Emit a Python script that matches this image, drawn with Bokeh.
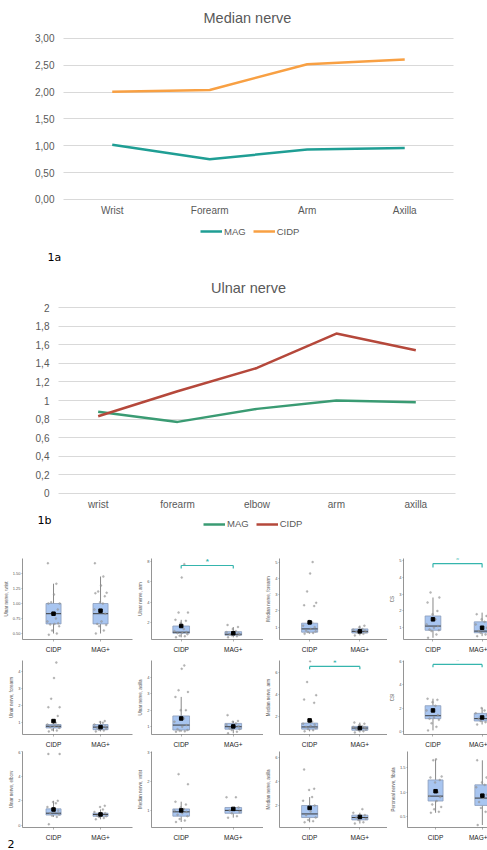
from bokeh.plotting import figure
from bokeh.models import (Range1d, FixedTicker, Label, Legend, LegendItem, ColumnDataSource,
                          Title, Grid)
from bokeh.layouts import column, row
from bokeh.embed import file_html
from bokeh.resources import INLINE

# ---------------- data: figure 1a (median nerve) ----------------
median_sites = ["Wrist", "Forearm", "Arm", "Axilla"]
median_mag = [1.02, 0.75, 0.93, 0.96]
median_cidp = [2.01, 2.04, 2.52, 2.61]
median_yticks = [0, 0.5, 1.0, 1.5, 2.0, 2.5, 3.0]
median_ylabels = ["0,00", "0,50", "1,00", "1,50", "2,00", "2,50", "3,00"]

# ---------------- data: figure 1b (ulnar nerve) ----------------
ulnar_sites = ["wrist", "forearm", "elbow", "arm", "axilla"]
ulnar_mag = [0.88, 0.77, 0.91, 1.00, 0.98]
ulnar_cidp = [0.83, 1.10, 1.35, 1.72, 1.54]
ulnar_yticks = [0, 0.2, 0.4, 0.6, 0.8, 1.0, 1.2, 1.4, 1.6, 1.8, 2.0]
ulnar_ylabels = ["0", "0,2", "0,4", "0,6", "0,8", "1", "1,2", "1,4", "1,6", "1,8", "2"]

# ---------------- data: figure 2 (box plots) ----------------
groups = ["CIDP", "MAG+"]
panel_titles = [
    "Ulnar nerve, wrist", "Ulnar nerve, arm", "Median nerve, forearm", "CS",
    "Ulnar nerve, forearm", "Ulnar nerve, axilla", "Median nerve, arm", "CSI",
    "Ulnar nerve, elbow", "Median nerve, wrist", "Median nerve, axilla", "Peroneal nerve, fibula",
]
panel_ticks = [
    [0.5, 0.75, 1.0, 1.25, 1.5], [2, 4, 6, 8], [1, 2, 3, 4, 5], [1, 2, 3, 4, 5],
    [1, 2, 3, 4], [1, 2, 3, 4], [2, 4, 6], [0, 2, 4, 6],
    [0, 2, 4, 6], [1, 2, 3], [2, 4, 6], [0.5, 1.0, 1.5],
]
panel_tick_labels = [
    ["0.50", "0.75", "1.00", "1.25", "1.50"], ["2", "4", "6", "8"], ["1", "2", "3", "4", "5"], ["1", "2", "3", "4", "5"],
    ["1", "2", "3", "4"], ["1", "2", "3", "4"], ["2", "4", "6"], ["0", "2", "4", "6"],
    ["0", "2", "4", "6"], ["1", "2", "3"], ["2", "4", "6"], ["0.5", "1.0", "1.5"],
]
panel_yrange = [
    (0.40, 1.75), (0.39, 8.25), (0.25, 5.22), (0.30, 5.12),
    (0.32, 4.62), (0.53, 5.00), (0.31, 7.07), (-0.25, 6.05),
    (-0.16, 6.00), (0.41, 3.03), (0.17, 6.50), (0.28, 1.83),
]
cidp_points = [
    [0.48, 0.50, 0.55, 0.62, 0.65, 0.66, 0.67, 0.70, 0.75, 0.83, 0.90, 1.00, 1.00, 1.02, 1.15, 1.33, 1.67],
    [0.6, 0.7, 0.75, 0.9, 1.0, 1.05, 1.1, 1.2, 1.4, 2.0, 2.2, 2.3, 3.0, 3.0, 6.4, 7.7],
    [0.6, 0.65, 0.7, 0.75, 0.8, 0.9, 1.0, 1.1, 1.3, 1.4, 2.3, 2.35, 2.5, 3.2, 4.3, 5.0],
    [0.4, 0.6, 0.8, 0.85, 0.9, 1.0, 1.1, 1.2, 1.5, 1.8, 2.0, 2.5, 2.8, 3.1],
    [0.5, 0.55, 0.6, 0.7, 0.75, 0.8, 0.85, 0.9, 1.0, 1.1, 1.4, 1.9, 1.9, 2.4, 3.6, 4.5],
    [0.7, 0.72, 0.75, 0.8, 0.85, 1.0, 1.1, 1.3, 1.5, 2.0, 2.0, 2.8, 3.1, 3.2, 4.5, 4.7],
    [0.6, 0.7, 0.8, 0.9, 1.0, 1.1, 1.2, 1.3, 1.5, 1.7, 3.2, 3.5, 3.9, 5.1, 7.0],
    [0.1, 0.4, 0.7, 1.0, 1.1, 1.2, 1.4, 1.8, 2.2, 2.5, 2.7, 2.8],
    [0.1, 0.7, 0.8, 0.9, 1.0, 1.1, 1.2, 1.5, 1.8, 1.9, 2.0, 5.8, 5.8],
    [0.6, 0.65, 0.7, 0.8, 0.85, 0.9, 0.95, 1.0, 1.05, 1.1, 1.2, 1.3, 1.9, 2.25],
    [0.6, 0.7, 0.8, 1.0, 1.2, 1.5, 2.0, 2.4, 2.7, 3.3, 3.4, 5.0],
    [0.58, 0.6, 0.65, 0.7, 0.75, 0.82, 0.9, 0.92, 1.0, 1.2, 1.25, 1.3, 1.32, 1.65, 1.67],
]
mag_points = [
    [0.50, 0.55, 0.62, 0.64, 0.66, 0.70, 0.83, 0.90, 1.00, 1.02, 1.12, 1.17, 1.18, 1.20, 1.30, 1.45, 1.67],
    [0.6, 0.7, 0.8, 0.85, 0.9, 0.95, 1.0, 1.1, 1.2, 1.4, 1.6, 1.8],
    [0.5, 0.6, 0.65, 0.7, 0.72, 0.75, 0.8, 0.85, 0.9, 1.0, 1.1],
    [0.5, 0.6, 0.7, 0.75, 0.8, 0.9, 1.0, 1.2, 1.35, 1.5, 1.7, 1.8, 1.9],
    [0.5, 0.55, 0.6, 0.65, 0.7, 0.75, 0.8, 0.9, 1.0, 1.05, 1.1],
    [0.6, 0.7, 0.8, 0.85, 0.9, 1.0, 1.05, 1.1, 1.2, 1.3, 1.35, 1.7],
    [0.5, 0.6, 0.7, 0.75, 0.8, 0.9, 0.95, 1.0, 1.05, 1.2, 1.3, 1.4],
    [0.6, 0.8, 0.9, 1.0, 1.1, 1.2, 1.4, 1.55, 1.8, 2.0],
    [0.5, 0.6, 0.7, 0.75, 0.8, 0.9, 1.0, 1.1, 1.3, 1.5, 1.6],
    [0.75, 0.8, 0.9, 0.95, 1.0, 1.05, 1.1, 1.45, 1.45],
    [0.5, 0.6, 0.8, 0.9, 1.0, 1.1, 1.2, 1.4, 1.7],
    [0.33, 0.6, 0.68, 0.73, 0.8, 0.88, 0.95, 1.1, 1.15, 1.2, 1.3, 1.65],
]
# box summaries: (q1, median, q3, whisker low, whisker high, mean)
cidp_stats = [
    (0.66, 0.83, 1.00, 0.50, 1.33, 0.83), (1.0, 1.1, 1.7, 0.6, 2.3, 1.7),
    (0.7, 0.9, 1.25, 0.6, 1.4, 1.3), (0.85, 1.1, 1.7, 0.4, 2.8, 1.5),
    (0.7, 0.8, 0.9, 0.5, 1.1, 1.1), (0.8, 1.1, 1.65, 0.7, 2.8, 1.5),
    (0.8, 1.0, 1.35, 0.6, 1.7, 1.6), (1.1, 1.35, 2.2, 0.1, 2.8, 1.8),
    (0.85, 1.0, 1.35, 0.7, 2.0, 1.3), (0.8, 0.95, 1.05, 0.6, 1.3, 1.0),
    (1.0, 1.3, 2.0, 0.6, 2.7, 1.8), (0.82, 0.92, 1.25, 0.58, 1.67, 1.02),
]
mag_stats = [
    (0.66, 0.83, 1.00, 0.50, 1.45, 0.88), (0.8, 0.9, 1.15, 0.6, 1.6, 1.0),
    (0.65, 0.75, 0.9, 0.5, 1.1, 0.75), (0.7, 0.8, 1.35, 0.5, 1.9, 1.0),
    (0.6, 0.75, 0.9, 0.5, 1.1, 0.75), (0.85, 1.0, 1.2, 0.6, 1.35, 1.02),
    (0.7, 0.9, 1.05, 0.5, 1.4, 0.9), (0.9, 1.1, 1.55, 0.6, 2.0, 1.2),
    (0.75, 0.9, 1.0, 0.5, 1.3, 0.9), (0.9, 1.0, 1.1, 0.75, 1.1, 1.05),
    (0.8, 1.0, 1.2, 0.5, 1.4, 1.05), (0.73, 0.88, 1.15, 0.33, 1.65, 0.93),
]
# significance brackets: (bar level, end level, star level) or None
panel_sig = [
    None, (7.57, 7.28, 7.96), None, (4.82, 4.59, 5.06),
    None, None, (6.53, 6.27, 6.90), (5.72, 5.47, 6.05),
    None, None, None, None,
]

# ---------------- styling ----------------
FONT = "Liberation Sans"
GREY = "#595959"
JITTER = [-0.10, 0.07, -0.03, 0.12, -0.07, 0.02, 0.10, -0.13, 0.05, -0.01,
          0.09, -0.11, 0.13, -0.05, 0.01, 0.06, -0.12, 0.11]
HAS_CROSS = "cross_bounds" in Grid.properties()


def line_chart(sites, mag, cidp, yticks, ylabels, c_mag, c_cidp, height, xr, yr,
               title, title_xy, legend_loc, tag, tag_xy):
    # the frame fills the whole canvas; both axes are pinned at the data origin
    p = figure(width=487, height=height, x_range=Range1d(*xr), y_range=Range1d(*yr),
               output_backend="svg", toolbar_location=None,
               min_border_left=0, min_border_right=0, min_border_top=0, min_border_bottom=0)
    n = len(sites)
    xs = [k + 0.5 for k in range(n)]
    p.outline_line_color = None
    p.xgrid.grid_line_color = None
    p.ygrid.ticker = FixedTicker(ticks=yticks)
    if HAS_CROSS:
        p.ygrid.grid_line_color = "#d9d9d9"
        p.ygrid.cross_bounds = (0, n)
    else:
        p.ygrid.grid_line_color = None
        p.segment(x0=0, x1=n, y0=yticks, y1=yticks, line_color="#d9d9d9", line_width=1)
    p.xaxis.ticker = FixedTicker(ticks=xs)
    p.xaxis.major_label_overrides = {x: s for x, s in zip(xs, sites)}
    p.yaxis.ticker = FixedTicker(ticks=yticks)
    p.yaxis.major_label_overrides = {t: s for t, s in zip(yticks, ylabels)}
    p.xaxis.fixed_location = 0
    p.yaxis.fixed_location = 0
    for ax in (p.xaxis, p.yaxis):
        ax.axis_line_color = None
        ax.major_tick_line_color = None
        ax.major_tick_out = 0
        ax.major_tick_in = 0
        ax.minor_tick_line_color = None
        ax.major_label_text_font = FONT
        ax.major_label_text_font_size = "10px"
        ax.major_label_text_color = GREY
    p.yaxis.major_label_standoff = 9
    p.xaxis.major_label_standoff = 6
    r_mag = p.line(xs, mag, line_color=c_mag, line_width=2.5)
    r_cidp = p.line(xs, cidp, line_color=c_cidp, line_width=2.5)
    leg = Legend(items=[LegendItem(label="MAG", renderers=[r_mag]),
                        LegendItem(label="CIDP", renderers=[r_cidp])],
                 location=legend_loc, orientation="horizontal", padding=0, margin=0,
                 spacing=7, label_standoff=2, glyph_width=22, glyph_height=12,
                 label_height=12, label_text_font=FONT, label_text_font_size="9.5px",
                 label_text_color=GREY, border_line_color=None, background_fill_alpha=0)
    p.add_layout(leg)
    p.add_layout(Label(x=title_xy[0], y=title_xy[1], text=title, text_align="center",
                       text_baseline="middle", text_font=FONT, text_font_size="14.5px",
                       text_color=GREY))
    p.add_layout(Label(x=tag_xy[0], y=tag_xy[1], text=tag, text_align="left",
                       text_baseline="middle", text_font="DejaVu Sans", text_font_size="11px",
                       text_color="black"))
    return p


# 1a: canvas rows 0..270; frame origin at (63, 199) px, 97.5 px per site, 53.67 px per unit
fig1a = line_chart(median_sites, median_mag, median_cidp, median_yticks, median_ylabels,
                   "#1f9e94", "#f8a043", 270, (-0.646, 4.349), (-1.323, 3.708),
                   "Median nerve", (1.887, 3.373), (200, 33), "1a", (-0.164, -1.081))
# 1b: canvas rows 270..542; frame origin at (58, 493) px, 79.4 px per site, 93 px per unit
fig1b = line_chart(ulnar_sites, ulnar_mag, ulnar_cidp, ulnar_yticks, ulnar_ylabels,
                   "#3a9b73", "#b5483b", 272, (-0.730, 5.403), (-0.527, 2.398),
                   "Ulnar nerve", (2.393, 2.215), (203, 12.5), "1b", (-0.264, -0.290))

BOX_FILL = "#a8c5f0"
BOX_LINE = "#8a9cba"
col_widths = [135, 128, 124, 100]
col_left = [22, 14, 14, 11]
col_right = [3, 0, 0, 0]
col_xr = [(0.34, 2.68), (0.43, 2.58), (0.40, 2.55), (0.40, 2.11)]
row_heights = [113, 95, 100]
row_top = [16, 5, 1]
row_bottom = [16, 14, 23]


def box_panel(i):
    r, c = divmod(i, 4)
    p = figure(width=col_widths[c], height=row_heights[r],
               x_range=Range1d(*col_xr[c]), y_range=Range1d(*panel_yrange[i]),
               output_backend="svg", toolbar_location=None,
               min_border_left=col_left[c], min_border_right=col_right[c],
               min_border_top=row_top[r], min_border_bottom=row_bottom[r])
    p.outline_line_color = None
    p.grid.grid_line_color = None
    p.xaxis.ticker = FixedTicker(ticks=[1, 2])
    p.xaxis.major_label_overrides = {1: groups[0], 2: groups[1]}
    p.yaxis.ticker = FixedTicker(ticks=panel_ticks[i])
    p.yaxis.major_label_overrides = {t: s for t, s in zip(panel_ticks[i], panel_tick_labels[i])}
    for ax in (p.xaxis, p.yaxis):
        ax.axis_line_color = "#7a7a7a"
        ax.axis_line_width = 0.8
        ax.major_tick_line_color = "#7a7a7a"
        ax.major_tick_line_width = 0.6
        ax.major_tick_in = 0
        ax.minor_tick_line_color = None
        ax.major_label_text_font = FONT
    p.xaxis.major_tick_out = 2
    p.xaxis.major_label_text_font_size = "6.5px"
    p.xaxis.major_label_text_color = "#222222"
    p.xaxis.major_label_standoff = 4
    p.yaxis.major_tick_out = 1
    p.yaxis.major_label_text_font_size = "4px"
    p.yaxis.major_label_text_color = "#555555"
    p.yaxis.major_label_standoff = 1
    p.yaxis.axis_label = panel_titles[i]
    p.yaxis.axis_label_text_font = FONT
    p.yaxis.axis_label_text_font_size = "4.5px"
    p.yaxis.axis_label_text_font_style = "normal"
    p.yaxis.axis_label_text_color = "#555555"
    p.yaxis.axis_label_standoff = 1

    stats = [cidp_stats[i], mag_stats[i]]
    xs = [1, 2]
    hw = 0.16
    src = ColumnDataSource(dict(
        x=xs, xl=[x - hw for x in xs], xr=[x + hw for x in xs],
        q1=[s[0] for s in stats], med=[s[1] for s in stats], q3=[s[2] for s in stats],
        lo=[s[3] for s in stats], hi=[s[4] for s in stats], mean=[s[5] for s in stats]))
    p.segment(x0="x", y0="q3", x1="x", y1="hi", source=src, line_color="#555555", line_width=0.7)
    p.segment(x0="x", y0="lo", x1="x", y1="q1", source=src, line_color="#555555", line_width=0.7)
    p.vbar(x="x", width=2 * hw, bottom="q1", top="q3", source=src,
           fill_color=BOX_FILL, line_color=BOX_LINE, line_width=0.8)
    p.segment(x0="xl", y0="med", x1="xr", y1="med", source=src, line_color="#3a3a3a", line_width=1)
    for gx, pts in zip(xs, [cidp_points[i], mag_points[i]]):
        px = [gx + JITTER[k % len(JITTER)] for k in range(len(pts))]
        p.scatter(px, pts, size=2, fill_color="#a0a0a0", line_color="#7a7a7a",
                  line_width=0.3, alpha=0.75)
    p.scatter(x="x", y="mean", source=src, marker="square", size=3.5,
              fill_color="black", line_color="black")
    sig = panel_sig[i]
    if sig is not None:
        bar, end, star = sig
        p.segment(x0=[1, 1, 2], y0=[bar, bar, bar], x1=[2, 1, 2], y1=[bar, end, end],
                  line_color="#35b5ad", line_width=1.2)
        p.add_layout(Label(x=1.5, y=star, text="*", text_align="center", text_baseline="middle",
                           text_font=FONT, text_font_size="8px", text_font_style="bold",
                           text_color="#35b5ad"))
    if i == 8:
        p.add_layout(Title(text="2", align="left", offset=-15, vertical_align="middle",
                           standoff=-10, text_font="DejaVu Sans", text_font_size="11px",
                           text_font_style="normal", text_color="black"), "below")
    return p


panels = [box_panel(i) for i in range(12)]
rows = [row(*panels[r * 4:(r + 1) * 4]) for r in range(3)]
layout = column(fig1a, fig1b, *rows)

open("out.html", "w").write(file_html(layout, INLINE))
